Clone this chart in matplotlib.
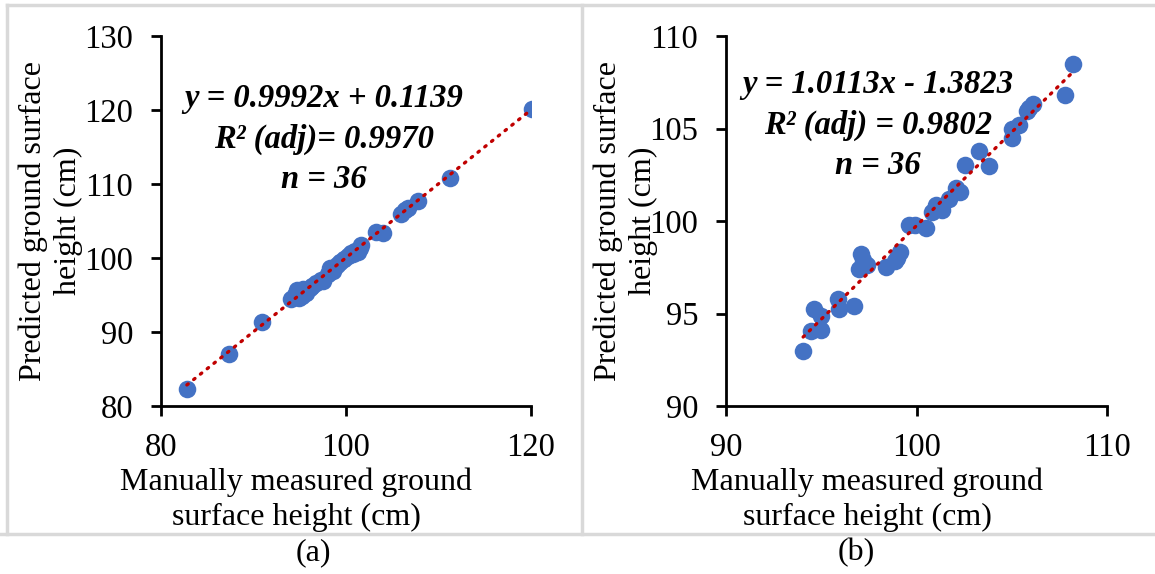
import numpy as np
import matplotlib.pyplot as plt
from matplotlib.lines import Line2D

plt.rcParams['font.family'] = ['Liberation Serif', 'DejaVu Serif']

# panel (a) data
xa = [82.8, 87.4, 90.9, 94.0, 94.5, 94.7, 94.9, 95.2, 95.4, 95.7, 96.1, 96.3,
      96.8, 97.3, 97.5, 98.1, 98.3, 98.6, 99.0, 99.4, 99.8, 100.2, 100.5, 100.8,
      101.0, 101.3, 101.5, 101.6, 103.2, 104.0, 105.9, 106.4, 106.7, 107.8, 111.2, 120.1]
ya = [82.3, 87.0, 91.3, 94.5, 95.0, 95.7, 94.6, 94.8, 95.8, 95.3, 95.9, 96.2,
      96.6, 97.0, 96.9, 97.8, 98.6, 98.2, 99.1, 99.5, 99.9, 100.3, 100.7, 100.5,
      101.0, 100.8, 101.4, 101.7, 103.5, 103.4, 106.0, 106.5, 106.8, 107.7, 110.8, 120.2]
slope_a, icpt_a = 0.9992, 0.1139
eq_a = 'y = 0.9992x + 0.1139\nR² (adj)= 0.9970\nn = 36'

# panel (b) data
xb = [94.05, 94.44, 94.64, 94.97, 94.97, 95.87, 95.95, 96.73, 96.99, 97.08, 97.2, 97.38,
      98.41, 98.85, 98.98, 99.14, 99.63, 99.92, 100.5, 100.8, 101.04, 101.33, 101.68,
      102.07, 102.27, 102.56, 103.29, 103.78, 105.0, 105.0, 105.4, 105.79, 105.9, 106.13,
      107.8, 108.24]
yb = [92.98, 94.07, 95.24, 94.09, 94.87, 95.78, 95.24, 95.40, 97.41, 98.20, 97.9, 97.61,
      97.49, 97.85, 98.0, 98.30, 99.77, 99.77, 99.63, 100.5, 100.84, 100.57, 101.18,
      101.78, 101.58, 103.03, 103.8, 102.95, 105.0, 104.46, 105.2, 105.97, 106.1, 106.31,
      106.82, 108.49]
slope_b, icpt_b = 1.0113, -1.3823
eq_b = 'y = 1.0113x - 1.3823\nR² (adj) = 0.9802\nn = 36'

ylab = 'Predicted ground surface\nheight (cm)'
xlab = 'Manually measured ground\nsurface height (cm)'

W, H = 1155, 574
fig = plt.figure(figsize=(W / 100, H / 100), dpi=100)

def px(x0, y0, x1, y1):
    return [x0 / W, 1 - y1 / H, (x1 - x0) / W, (y1 - y0) / H]

def ftext(x, y, s, **kw):
    return fig.text(x / W, 1 - y / H, s, ha='center', va='center', **kw)

def panel(rect, x, y, slope, icpt, xlim, ylim, xticks, yticks):
    ax = fig.add_axes(rect)
    ax.scatter(x, y, s=160, color='#4472C4', zorder=2, linewidths=0)
    xs = np.linspace(min(x), max(x), 50)
    ax.plot(xs, slope * xs + icpt, color='#C00000', lw=2.4, ls=(0, (0.5, 2.1)),
            dash_capstyle='round', zorder=3)
    ax.set_xlim(*xlim)
    ax.set_ylim(*ylim)
    ax.set_xticks(xticks)
    ax.set_yticks(yticks)
    for s in ['top', 'right']:
        ax.spines[s].set_visible(False)
    for s in ['left', 'bottom']:
        ax.spines[s].set_linewidth(2)
    ax.tick_params(width=2, length=7, labelsize=23.5)
    ax.tick_params(axis='x', pad=12)
    ax.tick_params(axis='y', pad=13)
    return ax

panel(px(161, 36, 531, 406), xa, ya, slope_a, icpt_a, (80, 120), (80, 130),
      [80, 100, 120], [80, 90, 100, 110, 120, 130])
panel(px(726, 36, 1107, 406), xb, yb, slope_b, icpt_b, (90, 110), (90, 110),
      [90, 100, 110], [90, 95, 100, 105, 110])

# axis titles, equations, captions
for cx, cy in [(51, 221), (626, 221)]:
    ftext(cx, cy, ylab, rotation=90, fontsize=23, linespacing=1.25)
ftext(296, 500, xlab, fontsize=23, linespacing=1.25)
ftext(867, 500, xlab, fontsize=23, linespacing=1.25)
ftext(324, 139, eq_a, fontsize=23.5, fontweight='bold', fontstyle='italic', linespacing=1.38)
ftext(878, 125, eq_b, fontsize=23.5, fontweight='bold', fontstyle='italic', linespacing=1.38)
ftext(313, 553, '(a)', fontsize=23)
ftext(856, 553, '(b)', fontsize=23)

# frame lines around the two panels
gray = '#D9D9D9'
for (x0, y0, x1, y1) in [(7, 5, 1155, 5), (0, 534, 1155, 534), (7, 5, 7, 534), (582, 5, 582, 534)]:
    fig.add_artist(Line2D([x0 / W, x1 / W], [1 - y0 / H, 1 - y1 / H], color=gray, lw=2.5))

fig.savefig('out.png', dpi=100)
